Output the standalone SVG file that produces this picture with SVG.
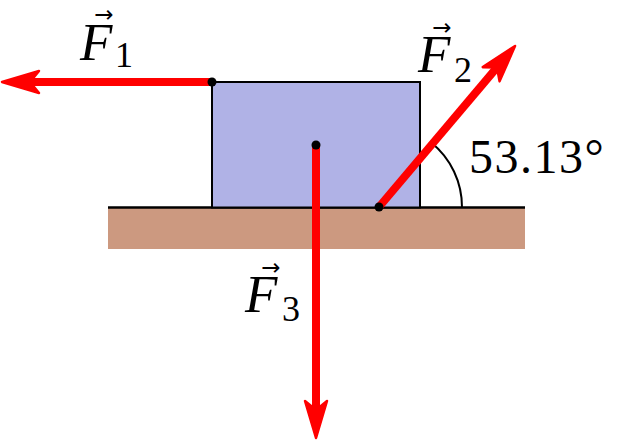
<svg xmlns="http://www.w3.org/2000/svg" width="617" height="441" viewBox="0 0 617 441">
  <style>
    .force { stroke: #ff0000; stroke-width: 8; fill: none; marker-end: url(#head); }
    .dot { fill: #000000; }
    .lbl { font-family: "Liberation Serif", "DejaVu Serif", serif; fill: #000000; }
    .sym { font-style: italic; font-size: 53px; }
    .sub { font-size: 36px; }
    .vec { font-family: "DejaVu Sans", sans-serif; font-size: 23px; text-anchor: middle; }
  </style>
  <defs>
    <marker id="head" markerUnits="userSpaceOnUse" viewBox="-20 -20 50 40" refX="0" refY="0" markerWidth="50" markerHeight="40" orient="auto">
      <path d="M 25,0 L -12,-11 L -3,0 L -12,11 Z" fill="#ff0000" stroke="#ff0000" stroke-width="2.5" stroke-linejoin="round"/>
    </marker>
  </defs>

  <g id="ground">
    <rect x="108" y="207" width="417" height="42" fill="#cc9980"/>
    <line x1="108" y1="207.5" x2="525" y2="207.5" stroke="#000" stroke-width="2.5"/>
  </g>

  <g id="block">
    <rect x="212" y="82" width="208" height="125.5" fill="#b0b2e6" stroke="#000" stroke-width="2"/>
  </g>

  <g id="angle">
    <path d="M 431.2,142.5 A 83 83 0 0 1 462,207.5" fill="none" stroke="#000" stroke-width="2"/>
    <text class="lbl" x="469" y="173" font-size="48" letter-spacing="1.5">53.13°</text>
  </g>

  <g id="connectors">
    <line class="force" x1="212" y1="82" x2="27" y2="82"/>
    <line class="force" x1="379" y1="207" x2="498.9" y2="65.1"/>
    <line class="force" x1="316" y1="145" x2="316" y2="413"/>
  </g>

  <g id="points">
    <circle class="dot" cx="212" cy="82" r="4.5"/>
    <circle class="dot" cx="379" cy="207" r="4.5"/>
    <circle class="dot" cx="316" cy="145" r="4.5"/>
  </g>

  <g id="label-F1">
    <text class="lbl"><tspan class="vec" x="104" y="22">→</tspan><tspan class="sym" x="80" y="60">F</tspan><tspan class="sub" x="115" y="67">1</tspan></text>
  </g>
  <g id="label-F2">
    <text class="lbl"><tspan class="vec" x="442" y="35">→</tspan><tspan class="sym" x="418" y="72">F</tspan><tspan class="sub" x="454" y="82">2</tspan></text>
  </g>
  <g id="label-F3">
    <text class="lbl"><tspan class="vec" x="271" y="275">→</tspan><tspan class="sym" x="245" y="312">F</tspan><tspan class="sub" x="282" y="321">3</tspan></text>
  </g>
</svg>
